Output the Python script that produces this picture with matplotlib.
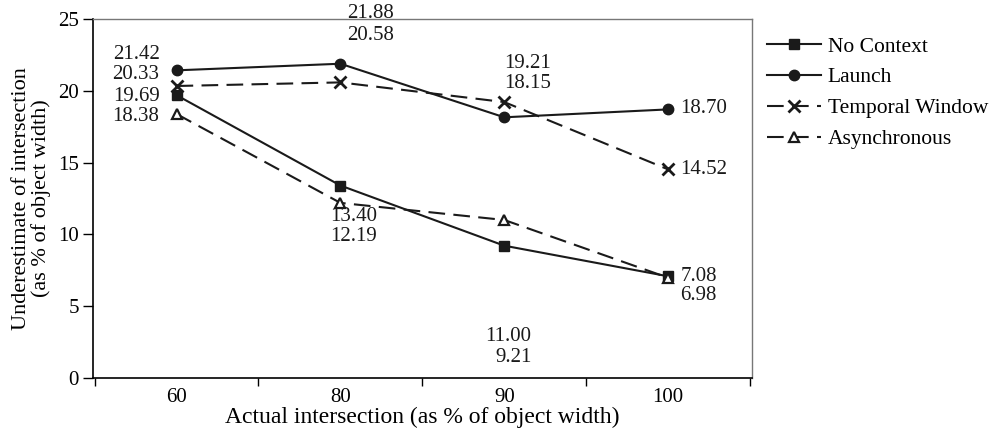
import matplotlib
matplotlib.use('Agg')
import matplotlib.pyplot as plt

plt.rcParams['font.family'] = ['Liberation Serif', 'DejaVu Serif']

# data
categories = ['60', '80', '90', '100']
no_context = [19.69, 13.40, 9.21, 7.08]
launch = [21.42, 21.88, 18.15, 18.70]
temporal = [20.33, 20.58, 19.21, 14.52]
asynchronous = [18.38, 12.19, 11.00, 6.98]
yticks = [0, 5, 10, 15, 20, 25]

xs = list(range(len(categories)))

fig = plt.figure(figsize=(10.05, 4.3), dpi=100)
ax = fig.add_axes([0.0925, 0.121, 0.6555, 0.835])

lw = 1.5
dash = (8, 4)
ax.plot(xs, no_context, '-', color='#1a1a1a', lw=lw, marker='s', ms=7.5,
        label='No Context')
ax.plot(xs, launch, '-', color='#1a1a1a', lw=lw, marker='o', ms=7.5,
        label='Launch')
ax.plot(xs, temporal, '--', color='#1a1a1a', lw=lw, marker='x', ms=8,
        mew=2, dashes=dash, label='Temporal Window')
ax.plot(xs, asynchronous, '--', color='#1a1a1a', lw=lw, marker='^', ms=7,
        mfc='white', mew=1.6, dashes=dash, label='Asynchronous')

# value labels: (series, index, dx px, dy px, ha)
fs = 15
k = 0.72  # px -> pt at 100 dpi
labels = [
    (launch, 0, -17, 16, 'right'),
    (temporal, 0, -17, 11, 'right'),
    (no_context, 0, -17, -1, 'right'),
    (asynchronous, 0, -17, -3, 'right'),
    (launch, 1, 7, 50, 'left'),
    (temporal, 1, 7, 47, 'left'),
    (no_context, 1, 13, -31, 'center'),
    (asynchronous, 1, 13, -34, 'center'),
    (temporal, 2, 0, 39, 'left'),
    (launch, 2, 0, 34, 'left'),
    (asynchronous, 2, 27, -117, 'right'),
    (no_context, 2, 27, -112, 'right'),
    (launch, 3, 12, 1, 'left'),
    (temporal, 3, 12, 0, 'left'),
    (no_context, 3, 12, 0, 'left'),
    (asynchronous, 3, 12, -18, 'left'),
]
for ser, i, dx, dy, ha in labels:
    ax.annotate('{:.2f}'.format(ser[i]), xy=(i, ser[i]),
                xytext=(dx * k, dy * k), textcoords='offset points',
                ha=ha, va='center', fontsize=fs, color='#1a1a1a')

ax.set_xlim(-0.51, 3.51)
ax.set_ylim(0, 25)
ax.set_yticks(yticks)
ax.set_xticks([x - 0.5 for x in xs] + [xs[-1] + 0.5])
ax.set_xticklabels([])
ax.set_xticks(xs, minor=True)
ax.set_xticklabels(categories, minor=True)
ax.tick_params(axis='x', which='minor', length=0, labelsize=fs, pad=7)
ax.tick_params(axis='x', which='major', direction='out', length=6, width=1)
ax.tick_params(axis='y', direction='out', length=7, width=1, labelsize=fs, pad=3)

for s in ['top', 'right']:
    ax.spines[s].set_color('#777777')
    ax.spines[s].set_linewidth(1)
for s in ['left', 'bottom']:
    ax.spines[s].set_linewidth(1.2)

ax.set_xlabel('Actual intersection (as % of object width)', fontsize=17,
              labelpad=0)
ax.set_ylabel('Underestimate of intersection\n(as % of object width)',
              fontsize=16, labelpad=5, linespacing=1.0)

fig.legend(loc='upper left', bbox_to_anchor=(0.755, 0.935), frameon=False,
           fontsize=15.5, numpoints=1, handlelength=2.5, handletextpad=0.3,
           labelspacing=0.5, borderaxespad=0)

fig.savefig('out.png', dpi=100)
